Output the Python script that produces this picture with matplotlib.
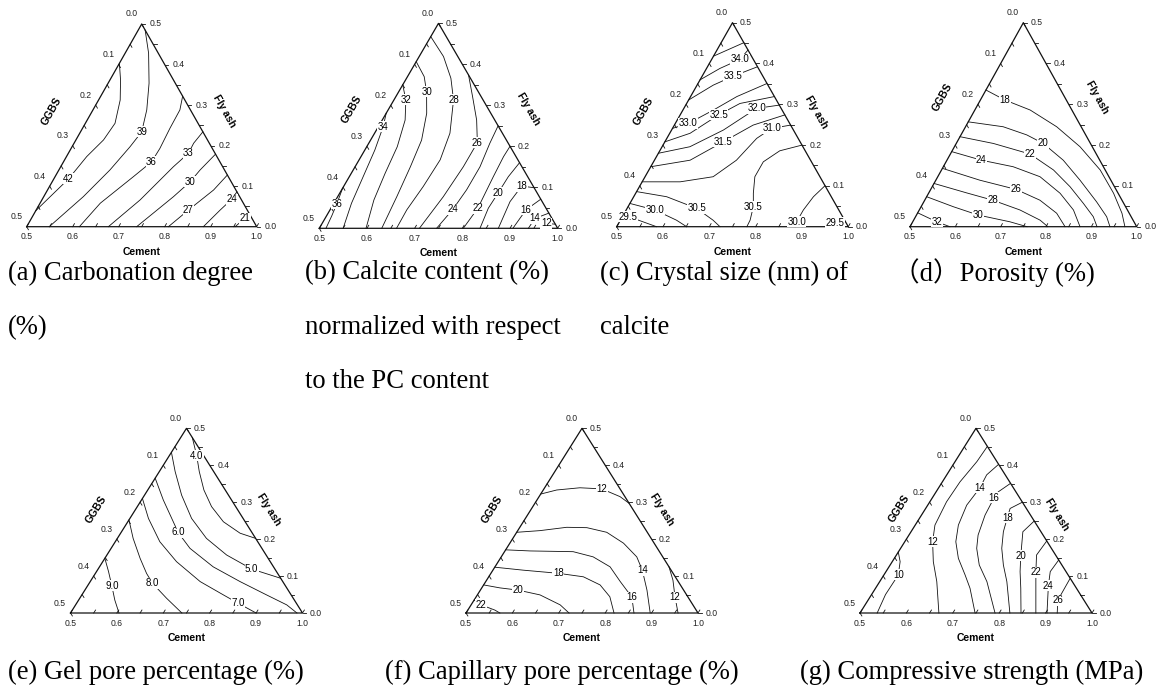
import numpy as np
import matplotlib.pyplot as plt
from matplotlib.transforms import offset_copy

plt.rcParams['font.family'] = ['Liberation Sans', 'DejaVu Sans']

# contour lines, each point = (cement, fly ash) fraction
# (a) carbonation degree
a_levels = [42, 39, 36, 33, 30, 27, 24, 21]
a_lines = [
    [(0.5, 0.403), (0.523, 0.362), (0.547, 0.3125), (0.5645, 0.255), (0.56, 0.214),
     (0.544, 0.173), (0.532, 0.118), (0.514, 0.074), (0.5, 0.0395)],
    [(0.515, 0.485), (0.551, 0.428), (0.589, 0.354), (0.617, 0.288), (0.633, 0.234),
     (0.626, 0.197), (0.611, 0.14), (0.586, 0.074), (0.549, 0.0)],
    [(0.678, 0.322), (0.689, 0.288), (0.690, 0.243), (0.693, 0.193), (0.6915, 0.160),
     (0.670, 0.123), (0.631, 0.058), (0.6145, 0.0)],
    [(0.766, 0.234), (0.760, 0.206), (0.761, 0.181), (0.745, 0.148), (0.7135, 0.066), (0.6775, 0.0)],
    [(0.821, 0.179), (0.807, 0.140), (0.80, 0.111), (0.782, 0.074), (0.739, 0.0)],
    [(0.8725, 0.1275), (0.861, 0.0905), (0.831, 0.041), (0.808, 0.0)],
    [(0.914, 0.086), (0.912, 0.068), (0.90, 0.041), (0.884, 0.0)],
    [(0.967, 0.033), (0.964, 0.0206), (0.953, 0.0)],
]
a_lab = [6, 4, 4, 2, 2, 2, 1, 1]

# (b) calcite content
b_levels = [36, 34, 32, 30, 28, 26, 24, 22, 20, 18, 16, 14, 12]
b_lines = [
    [(0.5, 0.0976), (0.507, 0.0593), (0.511, 0.030), (0.514, 0.0)],
    [(0.5, 0.2805), (0.510, 0.248), (0.521, 0.191), (0.530, 0.118), (0.537, 0.061), (0.550, 0.0)],
    [(0.5, 0.35), (0.525, 0.313), (0.548, 0.264), (0.564, 0.199), (0.571, 0.134), (0.580, 0.069), (0.598, 0.0)],
    [(0.5, 0.4065), (0.535, 0.37), (0.5585, 0.333), (0.585, 0.2805), (0.607, 0.215), (0.616, 0.15),
     (0.624, 0.077), (0.631, 0.0)],
    [(0.5, 0.4675), (0.551, 0.419), (0.593, 0.366), (0.625, 0.313), (0.658, 0.232), (0.670, 0.167),
     (0.667, 0.102), (0.661, 0.045), (0.662, 0.0)],
    [(0.626, 0.374), (0.661, 0.321), (0.698, 0.264), (0.727, 0.209), (0.727, 0.150), (0.7215, 0.077), (0.71, 0.0)],
    [(0.75, 0.25), (0.754, 0.207), (0.762, 0.150), (0.762, 0.094), (0.757, 0.046), (0.746, 0.0)],
    [(0.80, 0.20), (0.799, 0.175), (0.802, 0.126), (0.808, 0.049), (0.802, 0.0)],
    [(0.84, 0.16), (0.8335, 0.126), (0.832, 0.087), (0.830, 0.049), (0.837, 0.0)],
    [(0.901, 0.099), (0.873, 0.103), (0.8675, 0.065), (0.8755, 0.0)],
    [(0.929, 0.071), (0.911, 0.045), (0.906, 0.0)],
    [(0.963, 0.037), (0.940, 0.024), (0.9385, 0.0)],
    [(0.99, 0.01), (0.97, 0.012), (0.968, 0.0)],
]
b_lab = [1, 1, 1, 2, 3, 3, 4, 3, 2, 1, 1, 1, 1]

# (c) crystal size of calcite
c_levels = [34.5, 34.0, 33.5, 33.0, 32.5, 32.0, 31.5, 31.0, 30.5, 30.0, 29.5, 30.5, 30.0, 29.5]
c_lines = [
    [(0.5, 0.418), (0.549, 0.451)],
    [(0.5, 0.36), (0.529, 0.388), (0.561, 0.410), (0.567, 0.433)],
    [(0.5, 0.3105), (0.535, 0.347), (0.567, 0.369), (0.608, 0.392)],
    [(0.5, 0.241), (0.528, 0.253), (0.566, 0.286), (0.600, 0.319), (0.649, 0.351)],
    [(0.5, 0.208), (0.544, 0.229), (0.583, 0.274), (0.615, 0.302), (0.681, 0.319)],
    [(0.5, 0.18), (0.560, 0.196), (0.612, 0.237), (0.657, 0.29), (0.702, 0.298)],
    [(0.5, 0.147), (0.577, 0.163), (0.626, 0.208), (0.670, 0.249), (0.726, 0.274)],
    [(0.5, 0.110), (0.582, 0.110), (0.647, 0.1225), (0.677, 0.163), (0.694, 0.2165), (0.714, 0.241), (0.751, 0.249)],
    [(0.5, 0.086), (0.571, 0.0735), (0.650, 0.045), (0.700, 0.016), (0.723, 0.0)],
    [(0.5, 0.057), (0.562, 0.041), (0.621, 0.016), (0.651, 0.0)],
    [(0.5, 0.0286), (0.513, 0.0245), (0.539, 0.016), (0.586, 0.0)],
    [(0.80, 0.20), (0.759, 0.186), (0.737, 0.159), (0.737, 0.1225), (0.754, 0.082), (0.7705, 0.049),
     (0.78, 0.016), (0.781, 0.0)],
    [(0.8995, 0.1005), (0.888, 0.0735), (0.8825, 0.041), (0.8824, 0.012), (0.885, 0.0)],
    [(0.988, 0.012), (0.966, 0.0098), (0.96, 0.0)],
]
c_lab = [None, 2, 2, 1, 2, 3, 2, 5, 2, 1, 1, 5, 3, 1]

# (d) porosity
d_levels = [18, 20, 22, 24, 26, 28, 30, 32]
d_lines = [
    [(0.5, 0.335), (0.554, 0.3105), (0.622, 0.286), (0.701, 0.245), (0.777, 0.196), (0.850, 0.139),
     (0.908, 0.082), (0.951, 0.033), (0.974, 0.0)],
    [(0.5, 0.257), (0.583, 0.245), (0.645, 0.225), (0.692, 0.204), (0.7565, 0.163), (0.818, 0.114),
     (0.881, 0.061), (0.9215, 0.0245), (0.941, 0.0)],
    [(0.5, 0.2206), (0.582, 0.204), (0.676, 0.178), (0.747, 0.139), (0.804, 0.098), (0.854, 0.057),
     (0.892, 0.0245), (0.9125, 0.0)],
    [(0.5, 0.184), (0.576, 0.163), (0.654, 0.147), (0.7255, 0.1225), (0.79, 0.082), (0.84, 0.041), (0.875, 0.0)],
    [(0.5, 0.143), (0.597, 0.114), (0.688, 0.0915), (0.754, 0.065), (0.807, 0.033), (0.842, 0.0)],
    [(0.5, 0.106), (0.583, 0.083), (0.650, 0.065), (0.722, 0.041), (0.779, 0.016), (0.804, 0.0)],
    [(0.5, 0.0735), (0.571, 0.049), (0.636, 0.0286), (0.7145, 0.012), (0.758, 0.0)],
    [(0.5, 0.034), (0.553, 0.012), (0.588, 0.0)],
]
d_lab = [1, 3, 2, 1, 2, 2, 2, 1]

# (e) gel pore percentage
e_levels = [4.0, 5.0, 6.0, 7.0, 8.0, 9.0]
e_lines = [
    [(0.525, 0.475), (0.559, 0.426), (0.586, 0.383), (0.621, 0.333), (0.660, 0.288), (0.706, 0.247),
     (0.7575, 0.216), (0.798, 0.202)],
    [(0.5, 0.435), (0.534, 0.383), (0.580, 0.319), (0.633, 0.256), (0.692, 0.202), (0.758, 0.157),
     (0.831, 0.119), (0.906, 0.094)],
    [(0.5, 0.365), (0.547, 0.306), (0.598, 0.247), (0.623, 0.218), (0.670, 0.175), (0.745, 0.125),
     (0.823, 0.085), (0.898, 0.049), (0.955, 0.022), (0.988, 0.0)],
    [(0.5, 0.310), (0.540, 0.256), (0.596, 0.193), (0.659, 0.139), (0.737, 0.085), (0.805, 0.049),
     (0.847, 0.027), (0.900, 0.0)],
    [(0.5, 0.252), (0.534, 0.202), (0.576, 0.148), (0.6105, 0.107), (0.637, 0.080), (0.687, 0.040), (0.740, 0.0)],
    [(0.5, 0.148), (0.526, 0.112), (0.552, 0.074), (0.578, 0.035), (0.6045, 0.0)],
]
e_lab = [1, 6, 3, 6, 4, 2]

# (f) capillary pore percentage
f_levels = [12, 14, 16, 18, 20, 22, 12]
f_lines = [
    [(0.5, 0.322), (0.529, 0.333), (0.576, 0.339), (0.6246, 0.336), (0.6745, 0.315), (0.703, 0.297)],
    [(0.5, 0.2185), (0.548, 0.223), (0.601, 0.232), (0.645, 0.231), (0.694, 0.2185), (0.745, 0.189),
     (0.792, 0.152), (0.822, 0.116), (0.859, 0.062), (0.897, 0.0)],
    [(0.5, 0.171), (0.554, 0.168), (0.648, 0.166), (0.698, 0.152), (0.748, 0.125), (0.790, 0.085),
     (0.836, 0.043), (0.862, 0.0)],
    [(0.5, 0.124), (0.565, 0.116), (0.645, 0.1075), (0.704, 0.098), (0.751, 0.076), (0.788, 0.044), (0.819, 0.0)],
    [(0.5, 0.076), (0.539, 0.068), (0.581, 0.062), (0.635, 0.049), (0.692, 0.022), (0.722, 0.0)],
    [(0.5, 0.035), (0.5215, 0.022), (0.558, 0.008), (0.573, 0.0)],
    [(0.875, 0.125), (0.9015, 0.089), (0.929, 0.043), (0.957, 0.0)],
]
f_lab = [3, 7, 6, 2, 2, 1, 2]

# (g) compressive strength
g_levels = [10, 12, 14, 16, 18, 20, 22, 24, 26]
g_lines = [
    [(0.5, 0.165), (0.517, 0.139), (0.531, 0.103), (0.530, 0.05), (0.537, 0.0)],
    [(0.549, 0.451), (0.547, 0.410), (0.538, 0.355), (0.536, 0.301), (0.5425, 0.238), (0.560, 0.193),
     (0.5885, 0.139), (0.623, 0.085), (0.670, 0.0)],
    [(0.5975, 0.4025), (0.586, 0.374), (0.589, 0.339), (0.584, 0.292), (0.593, 0.238), (0.610, 0.193),
     (0.638, 0.148), (0.675, 0.103), (0.7036, 0.067), (0.748, 0.0)],
    [(0.649, 0.351), (0.634, 0.328), (0.633, 0.312), (0.637, 0.265), (0.649, 0.211), (0.664, 0.175),
     (0.692, 0.130), (0.731, 0.085), (0.791, 0.0)],
    [(0.700, 0.300), (0.682, 0.283), (0.6885, 0.258), (0.699, 0.220), (0.718, 0.175), (0.744, 0.130),
     (0.774, 0.085), (0.823, 0.0)],
    [(0.751, 0.249), (0.741, 0.220), (0.769, 0.155), (0.789, 0.112), (0.813, 0.067), (0.847, 0.0)],
    [(0.805, 0.195), (0.802, 0.157), (0.824, 0.110), (0.879, 0.0)],
    [(0.8565, 0.1435), (0.854, 0.112), (0.869, 0.074), (0.903, 0.0)],
    [(0.906, 0.094), (0.909, 0.035), (0.925, 0.0)],
]
g_lab = [2, 5, 2, 2, 2, 2, 2, 2, 1]

captions = [
    ["(a) Carbonation degree", "(%)"],
    ["(b) Calcite content (%)", "normalized with respect", "to the PC content"],
    ["(c) Crystal size (nm) of", "calcite"],
    ["（d）Porosity (%)"],
    ["(e) Gel pore percentage (%)"],
    ["(f) Capillary pore percentage (%)"],
    ["(g) Compressive strength (MPa)"],
]

panels = [
    (a_levels, a_lines, a_lab, '{:g}'),
    (b_levels, b_lines, b_lab, '{:g}'),
    (c_levels, c_lines, c_lab, '{:.1f}'),
    (d_levels, d_lines, d_lab, '{:g}'),
    (e_levels, e_lines, e_lab, '{:.1f}'),
    (f_levels, f_lines, f_lab, '{:g}'),
    (g_levels, g_lines, g_lab, '{:g}'),
]

# layout in pixels: triangle left x, right x, base y, apex y, GGBS / Fly ash title offsets,
# caption x, caption first-line y
W, H = 1160, 694
boxes = [
    (26.7, 256.7, 226.7, 24.0, (-33, 14), (25, 14), 8, 273),
    (319.3, 557.7, 228.3, 23.3, (-27, 16), (30, 17), 305, 273),
    (616.7, 848.3, 226.7, 22.7, (-31, 13), (26, 13), 600, 273),
    (910.0, 1136.7, 226.7, 22.7, (-24, 27), (17, 27), 893, 273),
    (70.5, 302.5, 613.0, 428.3, (-32, 11), (24, 11), 8, 672),
    (466.0, 698.0, 613.0, 428.3, (-32, 11), (22, 11), 385, 672),
    (860.0, 1092.0, 613.0, 428.3, (-19, 12), (23, 6), 800, 672),
]

fig = plt.figure(figsize=(W / 100, H / 100), dpi=100)


def to_xy(pts):
    p = np.asarray(pts, dtype=float)
    return 2 * p[:, 0] - 1 + p[:, 1], 2 * p[:, 1]


for (levels, lines, lab, fmt), box, cap in zip(panels, boxes, captions):
    x0, x1, yb, ya, g_off, f_off, cx, cy = box
    wpx, hpx = x1 - x0, yb - ya
    ax = fig.add_axes([x0 / W, 1 - yb / H, wpx / W, hpx / H])
    ax.set_xlim(0, 1)
    ax.set_ylim(0, 1)
    ax.axis('off')

    def off(dx, dy):
        return offset_copy(ax.transData, fig=fig, x=dx, y=dy, units='dots')

    ax.plot([0, 1, 0.5, 0], [0, 0, 1, 0], color='#111111', lw=0.9, clip_on=False,
            solid_joinstyle='miter')

    # unit directions (pixels) along the edges
    ln = np.hypot(0.5 * wpx, hpx)
    up = (0.5 * wpx / ln, hpx / ln)       # along left edge
    dn = (0.5 * wpx / ln, -hpx / ln)      # along right edge
    tl = 3.5
    for t in np.arange(0.0, 0.5001, 0.05):
        # cement
        px, py = 2 * t, 0.0
        ax.plot([px, px + tl * up[0] / wpx], [py, py + tl * up[1] / hpx], color='#111111', lw=0.6,
                clip_on=False)
        # GGBS (left edge)
        px, py = 0.5 - t, 1 - 2 * t
        ax.plot([px, px + tl * dn[0] / wpx], [py, py + tl * dn[1] / hpx], color='#111111', lw=0.6,
                clip_on=False)
        # fly ash (right edge)
        px, py = 1 - t, 2 * t
        ax.plot([px, px + tl / wpx], [py, py], color='#111111', lw=0.6, clip_on=False)
    for t in np.arange(0.0, 0.5001, 0.1):
        ax.text(2 * t, 0, '{:.1f}'.format(0.5 + t), transform=off(0, -10), ha='center', va='center',
                fontsize=6.2, color='#222222')
        ax.text(0.5 - t, 1 - 2 * t, '{:.1f}'.format(t), transform=off(-10.5, 10), ha='center',
                va='center', fontsize=6.2, color='#222222')
        ax.text(1 - t, 2 * t, '{:.1f}'.format(t), transform=off(13.5, 0), ha='center', va='center',
                fontsize=6.2, color='#222222')

    ang = np.degrees(np.arctan2(hpx, 0.5 * wpx))
    ax.text(0.5, 0, 'Cement', transform=off(0, -25), ha='center', va='center', fontsize=7.5,
            fontweight='bold')
    ax.text(0.25, 0.5, 'GGBS', transform=off(*g_off), ha='center', va='center', fontsize=7.5,
            fontweight='bold', rotation=ang)
    ax.text(0.75, 0.5, 'Fly ash', transform=off(*f_off), ha='center', va='center', fontsize=7.5,
            fontweight='bold', rotation=-ang)

    for lev, pts, k in zip(levels, lines, lab):
        x, y = to_xy(pts)
        ax.plot(x, y, color='#111111', lw=0.6, clip_on=False)
        if k is not None:
            ax.text(x[k], y[k], fmt.format(lev), ha='center', va='center', fontsize=7, zorder=5,
                    bbox=dict(boxstyle='square,pad=0.05', fc='white', ec='none'))

    for i, line in enumerate(cap):
        fig.text(cx / W, 1 - (cy + i * 54.5) / H, line, ha='left', va='center', fontsize=19.2,
                 family=['Liberation Serif', 'Noto Sans CJK SC'])

fig.savefig('out.png', dpi=100)
